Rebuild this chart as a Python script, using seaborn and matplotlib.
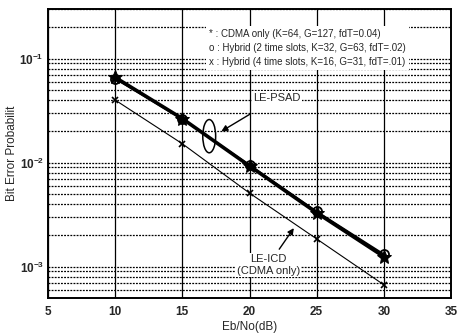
import numpy as np
import pandas as pd
import seaborn as sns
import matplotlib.pyplot as plt
from matplotlib.patches import Ellipse
from matplotlib.ticker import LogLocator, NullFormatter

# Eb/No (dB) and bit error probability
ebno = [10, 15, 20, 25, 30]
ber_cdma = [0.066, 0.0265, 0.0093, 0.0033, 0.00125]
ber_hyb2 = [0.064, 0.0262, 0.0095, 0.0034, 0.00132]
ber_hyb4 = [0.040, 0.0152, 0.0051, 0.00185, 0.00067]

legend_lines = [
    "* : CDMA only (K=64, G=127, fdT=0.04)",
    "o : Hybrid (2 time slots, K=32, G=63, fdT=.02)",
    "x : Hybrid (4 time slots, K=16, G=31, fdT=.01)",
]

sns.set_style("white")
plt.rcParams['font.family'] = ['Liberation Sans', 'DejaVu Sans']

fig = plt.figure(figsize=(4.59, 3.33), dpi=100)
ax = fig.add_axes([0.1046, 0.105, 0.878, 0.868])

df = pd.DataFrame({"ebno": ebno, "cdma": ber_cdma, "hyb2": ber_hyb2, "hyb4": ber_hyb4})

sns.lineplot(data=df, x="ebno", y="cdma", ax=ax, color="black", lw=2.6,
             marker="*", markersize=10, markeredgecolor="black", zorder=4)
sns.lineplot(data=df, x="ebno", y="hyb2", ax=ax, color="black", lw=1.2,
             marker="o", markersize=6.5, markerfacecolor="none", markeredgecolor="black",
             markeredgewidth=1.3, zorder=4)
sns.lineplot(data=df, x="ebno", y="hyb4", ax=ax, color="black", lw=0.8,
             marker="x", markersize=4, markeredgecolor="black", markeredgewidth=1.2, zorder=4)

ax.set_yscale("log")
ax.set_xlim(5, 35)
ax.set_ylim(5e-4, 0.3)
ax.set_xticks([5, 10, 15, 20, 25, 30, 35])
ax.yaxis.set_major_locator(LogLocator(base=10, numticks=10))
ax.yaxis.set_minor_locator(LogLocator(base=10, subs=np.arange(2, 10), numticks=10))
ax.yaxis.set_minor_formatter(NullFormatter())
ax.tick_params(axis="x", labelsize=8.5, length=0, pad=6)
ax.tick_params(axis="y", labelsize=8.5, length=0, pad=3)
for lab in ax.get_xticklabels() + ax.get_yticklabels():
    lab.set_fontweight("bold")

ax.grid(True, which="major", axis="x", color="black", lw=0.9, ls="-")
ax.grid(True, which="both", axis="y", color="black", lw=0.9, ls=(0, (1.5, 1)))
for s in ax.spines.values():
    s.set_color("black")
    s.set_linewidth(1.4)

ax.set_xlabel("Eb/No(dB)", fontsize=8.5, labelpad=2)
ax.set_ylabel("Bit Error Probabilit", fontsize=8.5)
ax.yaxis.set_label_coords(-0.075, 0.5)

# legend as text block in white box
ax.text(0.4, 0.93, "\n".join(legend_lines), transform=ax.transAxes, fontsize=7,
        va="top", ha="left", linespacing=1.5, zorder=5,
        bbox=dict(facecolor="white", edgecolor="none", pad=2))

# LE-PSAD annotation (ellipse around the two close curves)
ax.add_patch(Ellipse((0.40, 0.56), 0.032, 0.115, transform=ax.transAxes, fill=False,
                     ec="black", lw=1.1, zorder=5))
ax.annotate("LE-PSAD", xy=(17.9, 0.020), xytext=(20.3, 0.042), fontsize=8,
            ha="left", va="center", zorder=6,
            bbox=dict(facecolor="white", edgecolor="none", pad=1),
            arrowprops=dict(arrowstyle="-|>", color="black", lw=1.0,
                            shrinkA=14, shrinkB=0, mutation_scale=9))
ax.annotate("LE-ICD\n(CDMA only)", xy=(23.3, 0.00235), xytext=(21.4, 0.00104),
            fontsize=8, ha="center", va="center", zorder=6, linespacing=1.25,
            bbox=dict(facecolor="white", edgecolor="none", pad=1),
            arrowprops=dict(arrowstyle="-|>", color="black", lw=1.0,
                            shrinkA=3, shrinkB=0, mutation_scale=9))

fig.savefig("out.png", dpi=100)
